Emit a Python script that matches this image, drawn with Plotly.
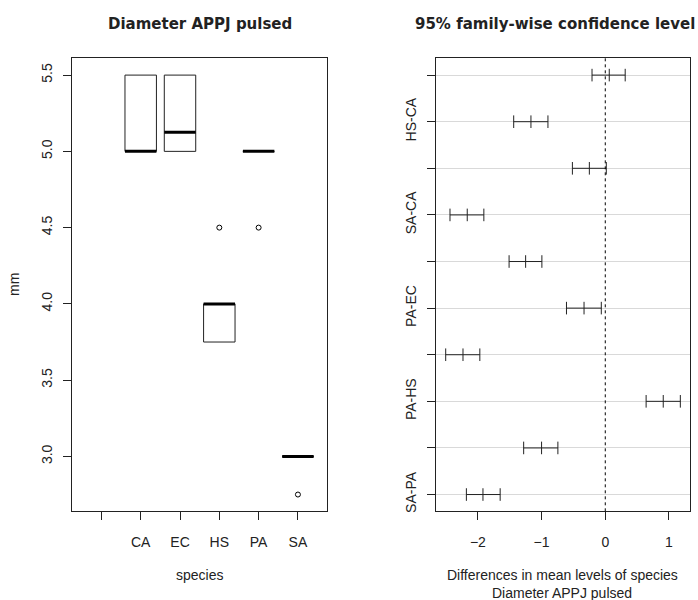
import plotly.graph_objects as go

W, H = 698, 600

# ---------------- Boxplot data (left panel) ----------------
axis_ticks = [1, 2, 3, 4, 5, 6]
axis_tick_labels = ["", "CA", "EC", "HS", "PA", "SA"]
box_positions = [2, 3, 4, 5, 6]
box_species = ["CA", "EC", "HS", "PA", "SA"]
q1 = [5.0, 5.0, 3.75, 5.0, 3.0]
medians = [5.0, 5.125, 4.0, 5.0, 3.0]
q3 = [5.5, 5.5, 4.0, 5.0, 3.0]
outlier_pos = [4, 5, 6]
outlier_vals = [4.5, 4.5, 2.75]
left_y_ticks = [3.0, 3.5, 4.0, 4.5, 5.0, 5.5]

# ---------------- Tukey HSD data (right panel) ----------------
comparisons = ["EC-CA", "HS-CA", "PA-CA", "SA-CA", "HS-EC",
               "PA-EC", "SA-EC", "PA-HS", "SA-HS", "SA-PA"]
shown_labels = ["", "HS-CA", "", "SA-CA", "", "PA-EC", "", "PA-HS", "", "SA-PA"]
diff = [0.0625, -1.1667, -0.25, -2.1667, -1.25, -0.3333, -2.2333, 0.91, -1.0, -1.92]
lwr = [-0.208, -1.4375, -0.516, -2.4375, -1.51, -0.609, -2.505, 0.641, -1.281, -2.18]
upr = [0.3125, -0.9, 0.016, -1.906, -0.995, -0.0625, -1.969, 1.178, -0.744, -1.65]
right_x_ticks = [-2, -1, 0, 1]

FONT = "Liberation Sans, Arial, Helvetica, sans-serif"
TFONT = "DejaVu Sans, Liberation Sans, sans-serif"
TXT = "#222222"
BOXW = 0.4

fig = go.Figure()

# --- boxes ---
bx, by = [], []
for p, a, b in zip(box_positions, q1, q3):
    bx += [p - BOXW, p + BOXW, p + BOXW, p - BOXW, p - BOXW, None]
    by += [a, a, b, b, a, None]
fig.add_trace(go.Scatter(x=bx, y=by, mode="lines", xaxis="x", yaxis="y",
                         line=dict(color="#222222", width=1), hoverinfo="skip",
                         showlegend=False))
mx, my = [], []
for p, m in zip(box_positions, medians):
    mx += [p - BOXW, p + BOXW, None]
    my += [m, m, None]
fig.add_trace(go.Scatter(x=mx, y=my, mode="lines", xaxis="x", yaxis="y",
                         line=dict(color="#000000", width=3), showlegend=False))
fig.add_trace(go.Scatter(x=outlier_pos, y=outlier_vals, mode="markers",
                         xaxis="x", yaxis="y",
                         marker=dict(symbol="circle-open", size=5, color="#000000",
                                     line=dict(width=1, color="#000000")),
                         showlegend=False))

# --- Tukey intervals ---
n = len(comparisons)
yvals = list(range(n, 0, -1))
lx, ly = [], []
for a, b, yv in zip(lwr, upr, yvals):
    lx += [a, b, None]
    ly += [yv, yv, None]
fig.add_trace(go.Scatter(x=lx, y=ly, mode="lines", xaxis="x2", yaxis="y2",
                         line=dict(color="#222222", width=1), showlegend=False))
fig.add_trace(go.Scatter(x=lwr + diff + upr, y=yvals * 3, mode="markers",
                         xaxis="x2", yaxis="y2",
                         marker=dict(symbol="line-ns-open", size=9, color="#222222",
                                     line=dict(color="#222222", width=1)),
                         showlegend=False))

fig.add_shape(type="line", xref="x2", yref="y2 domain", x0=0, x1=0, y0=0, y1=1,
              line=dict(color="#000000", width=1, dash="3px,3px"))

axis_common = dict(showline=True, mirror=True, linecolor="#222222", linewidth=1,
                   ticks="outside", ticklen=8, tickcolor="#222222", zeroline=False,
                   showgrid=False, automargin=False,
                   tickfont=dict(family=FONT, size=14, color=TXT))

fig.update_layout(
    width=W, height=H, autosize=False,
    margin=dict(l=0, r=0, t=0, b=0),
    paper_bgcolor="white", plot_bgcolor="white",
    font=dict(family=FONT, color=TXT),
    xaxis=dict(domain=[0.1036, 0.4685], range=[0.26, 6.74],
               tickmode="array", tickvals=axis_ticks, ticktext=axis_tick_labels,
               ticklabelstandoff=10, **axis_common),
    yaxis=dict(domain=[0.1478, 0.9028], range=[2.64, 5.61],
               tickmode="array", tickvals=left_y_ticks, tickformat=".1f",
               tickangle=-90, ticklabelstandoff=6, **axis_common),
    xaxis2=dict(domain=[0.6251, 0.9881], range=[-2.652, 1.325], anchor="y2",
                tickmode="array", tickvals=right_x_ticks,
                ticklabelstandoff=10, **axis_common),
    yaxis2=dict(domain=[0.1478, 0.9028], range=[0.64, 10.36], anchor="x2",
                tickmode="array", tickvals=yvals, ticktext=shown_labels,
                tickangle=-90, ticklabelstandoff=6, **{**axis_common,
                "showgrid": True}, gridcolor="#d9d9d9", gridwidth=1),
)

ann = [
    dict(text="<b>Diameter APPJ pulsed</b>", x=199.5 / W, y=1 - 24 / H,
         font=dict(size=15, family=TFONT)),
    dict(text="<b>95% family-wise confidence level</b>", x=555 / W, y=1 - 24 / H,
         font=dict(size=15, family=TFONT)),
    dict(text="mm", x=14 / W, y=1 - 285 / H, textangle=-90, font=dict(size=14)),
    dict(text="species", x=199.5 / W, y=1 - 575 / H, font=dict(size=14)),
    dict(text="Differences in mean levels of species", x=562 / W, y=1 - 575 / H,
         font=dict(size=14)),
    dict(text="Diameter APPJ pulsed", x=562 / W, y=1 - 593 / H, font=dict(size=14)),
]
for a in ann:
    a.update(xref="paper", yref="paper", showarrow=False,
             xanchor="center", yanchor="middle")
    f = dict(family=FONT, color=TXT)
    f.update(a["font"])
    a["font"] = f
    fig.add_annotation(**a)

fig.write_html("out.html",
               config={"displayModeBar": False},
               post_script="document.body.style.margin='0px';"
                           "document.body.style.overflow='hidden';")
